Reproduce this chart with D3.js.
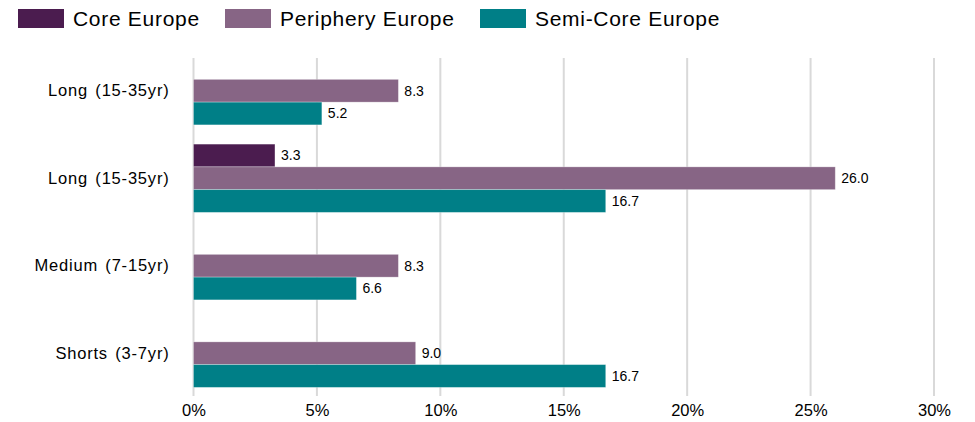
<!DOCTYPE html>
<html>
<head>
<meta charset="utf-8">
<script src="https://cdn.jsdelivr.net/npm/d3@7"></script>
<style>
	body { margin: 0; background: #fff; }
	svg { display: block; font-family: "Liberation Sans", Arial, sans-serif; }
	.grid line { stroke: #d9d9d9; stroke-width: 2; }
</style>
</head>
<body>
<div id="chart"></div>
<script>
// data, top to bottom as drawn
var categories = ['Long (15-35yr)', 'Long (15-35yr)', 'Medium (7-15yr)', 'Shorts (3-7yr)'];
var seriesNames = ['Core Europe', 'Periphery Europe', 'Semi-Core Europe'];
var coreEurope = [null, 3.3, null, null];
var peripheryEurope = [8.3, 26.0, 8.3, 9.0];
var semiCoreEurope = [5.2, 16.7, 6.6, 16.7];
var xTicks = [0, 5, 10, 15, 20, 25, 30];

var colors = ['#4b1c4f', '#876585', '#007f87'];
var width = 975, height = 422;

var svg = d3.select('#chart').append('svg')
	.attr('width', width)
	.attr('height', height);

var series = [coreEurope, peripheryEurope, semiCoreEurope];
var rows = categories.map(function(c, i) { return { key: i, label: c }; });

var x = d3.scaleLinear()
	.domain([0, 30])
	.range([193.5, 934]);
var y = d3.scaleBand()
	.domain(rows.map(function(d) { return d.key; }))
	.range([47, 397])
	.paddingInner(0.22)
	.paddingOuter(0.11);
var y1 = d3.scaleBand()
	.domain(seriesNames)
	.range([0, y.bandwidth()]);

// gridlines
svg.append('g').attr('class', 'grid')
	.selectAll('line')
	.data(xTicks)
	.enter().append('line')
	.attr('x1', function(d) { return x(d); })
	.attr('x2', function(d) { return x(d); })
	.attr('y1', 58)
	.attr('y2', 396);

// x axis labels
svg.append('g')
	.attr('transform', 'translate(0,' + 396 + ')')
	.call(d3.axisBottom(x).tickValues(xTicks).tickSize(0).tickPadding(8)
		.tickFormat(function(d) { return d + '%'; }))
	.call(function(g) {
		g.select('.domain').remove();
		g.selectAll('text').attr('font-size', 16.5).attr('fill', '#000')
			.attr('font-family', '"Liberation Sans", Arial, sans-serif');
	});

// category labels
svg.append('g')
	.attr('transform', 'translate(' + 193.5 + ',0)')
	.call(d3.axisLeft(y).tickSize(0).tickPadding(24)
		.tickFormat(function(d) { return categories[d]; }))
	.call(function(g) {
		g.select('.domain').remove();
		g.selectAll('text').attr('font-size', 16.5).attr('fill', '#000')
			.attr('letter-spacing', 0.8).attr('word-spacing', 2)
			.attr('font-family', '"Liberation Sans", Arial, sans-serif');
	});

// bars
var groups = svg.append('g').selectAll('g')
	.data(rows)
	.enter().append('g')
	.attr('transform', function(d) { return 'translate(0,' + y(d.key) + ')'; });

var cells = groups.selectAll('g')
	.data(function(d) {
		return series.map(function(s, j) {
			return { name: seriesNames[j], value: s[d.key], color: colors[j] };
		}).filter(function(v) { return v.value != null; });
	})
	.enter().append('g');

cells.append('rect')
	.attr('x', x(0))
	.attr('y', function(d) { return y1(d.name); })
	.attr('width', function(d) { return x(d.value) - x(0); })
	.attr('height', y1.bandwidth())
	.attr('fill', function(d) { return d.color; })
	.attr('stroke', '#fff')
	.attr('stroke-opacity', 0.35)
	.attr('stroke-width', 0.8);

cells.append('text')
	.attr('x', function(d) { return x(d.value) + 6; })
	.attr('y', function(d) { return y1(d.name) + y1.bandwidth() / 2; })
	.attr('dy', '0.35em')
	.attr('font-size', 14)
	.attr('fill', '#000')
	.text(function(d) { return d3.format('.1f')(d.value); });

// legend
var legendX = [18, 225, 480];
var legend = svg.append('g').selectAll('g')
	.data(seriesNames)
	.enter().append('g')
	.attr('transform', function(d, i) { return 'translate(' + legendX[i] + ',9)'; });
legend.append('rect')
	.attr('width', 46)
	.attr('height', 19)
	.attr('fill', function(d, i) { return colors[i]; });
legend.append('text')
	.attr('x', 55)
	.attr('y', 10)
	.attr('dy', '0.35em')
	.attr('font-size', 21)
	.attr('letter-spacing', 0.7)
	.attr('fill', '#000')
	.text(function(d) { return d; });
</script>
</body>
</html>
